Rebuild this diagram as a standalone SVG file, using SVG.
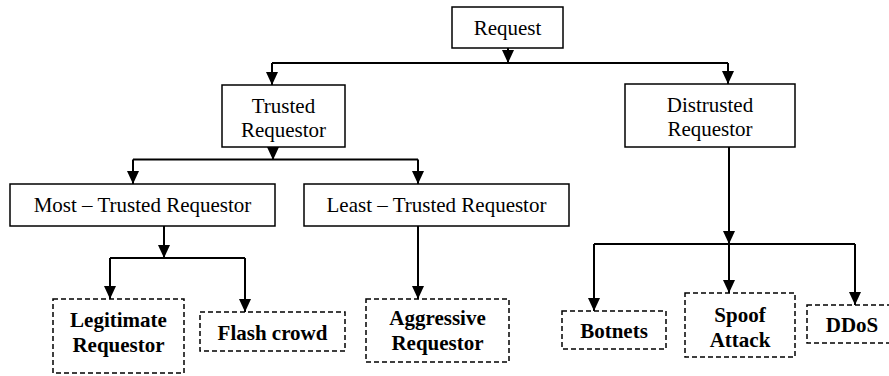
<svg xmlns="http://www.w3.org/2000/svg" width="889" height="376" viewBox="0 0 889 376">
<style>
.box{fill:#fff;stroke:#000;stroke-width:1.5}
.dbox{fill:#fff;stroke:#000;stroke-width:1.5;stroke-dasharray:5 3}
.t{font-family:"Liberation Serif","Times New Roman",serif;font-size:21px;fill:#000;text-anchor:middle}
.b{font-weight:bold}
.c{fill:none;stroke:#000;stroke-width:2}
.a{marker-end:url(#arr)}
</style>
<defs>
<marker id="arr" markerUnits="userSpaceOnUse" markerWidth="13" markerHeight="12" refX="13" refY="6" orient="auto">
<path d="M0,0 L13,6 L0,12 z" fill="#000"/>
</marker>
</defs>
<rect width="889" height="376" fill="#fff"/>
<g id="connectors">
<path class="c a" d="M508,48 V63"/>
<path class="c" d="M272,63 H728"/>
<path class="c a" d="M272,63 V85"/>
<path class="c a" d="M728,63 V84"/>
<path class="c a" d="M273,147 V160"/>
<path class="c" d="M133,159.5 H418"/>
<path class="c a" d="M133,159.5 V184"/>
<path class="c a" d="M418,159.5 V184"/>
<path class="c a" d="M164,226 V258"/>
<path class="c" d="M110,258 H245"/>
<path class="c a" d="M110,258 V299"/>
<path class="c a" d="M245,258 V312"/>
<path class="c a" d="M418,226 V299"/>
<path class="c a" d="M729,147 V244"/>
<path class="c" d="M594,244 H855"/>
<path class="c a" d="M594,244 V311"/>
<path class="c a" d="M729,244 V293"/>
<path class="c a" d="M855,244 V305"/>
</g>
<g id="request"><rect class="box" x="452" y="7" width="111" height="41"/><text class="t" x="507.5" y="35">Request</text></g>
<g id="trusted"><rect class="box" x="222" y="85" width="123" height="62"/><text class="t" x="283.5" y="113">Trusted</text><text class="t" x="283.5" y="137">Requestor</text></g>
<g id="distrusted"><rect class="box" x="625" y="84" width="170" height="63"/><text class="t" x="710" y="112">Distrusted</text><text class="t" x="710" y="136">Requestor</text></g>
<g id="most"><rect class="box" x="10" y="184" width="265" height="42"/><text class="t" x="142.5" y="212">Most – Trusted Requestor</text></g>
<g id="least"><rect class="box" x="304" y="184" width="265" height="42"/><text class="t" x="436.5" y="212">Least – Trusted Requestor</text></g>
<g id="legitimate"><rect class="dbox" x="53" y="299" width="131" height="74"/><text class="t b" x="118.5" y="327">Legitimate</text><text class="t b" x="118.5" y="352">Requestor</text></g>
<g id="flash"><rect class="dbox" x="200" y="312" width="145" height="39"/><text class="t b" x="272.5" y="340">Flash crowd</text></g>
<g id="aggressive"><rect class="dbox" x="366" y="299" width="143" height="63"/><text class="t b" x="437.5" y="325">Aggressive</text><text class="t b" x="437.5" y="350">Requestor</text></g>
<g id="botnets"><rect class="dbox" x="562" y="311" width="104" height="38"/><text class="t b" x="614" y="338">Botnets</text></g>
<g id="spoof"><rect class="dbox" x="685" y="293" width="110" height="64"/><text class="t b" x="740" y="322">Spoof</text><text class="t b" x="740" y="347">Attack</text></g>
<g id="ddos"><rect class="dbox" x="807" y="305" width="95" height="38"/><text class="t b" x="852" y="332">DDoS</text></g>
</svg>
